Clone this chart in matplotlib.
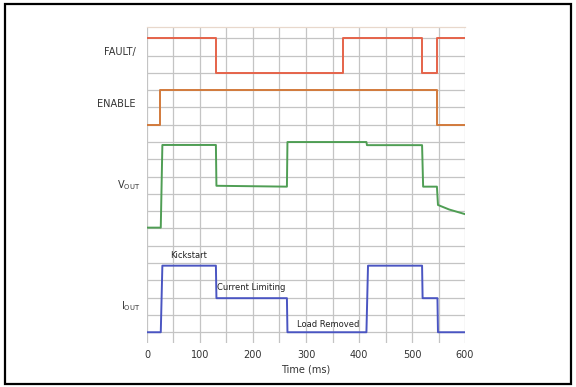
import matplotlib.pyplot as plt
from matplotlib.patches import Rectangle

# time axis (ms) and trace levels
fault_t = [0, 130, 130, 370, 370, 519, 519, 548, 548, 600]
fault_v = [1, 1, 0, 0, 1, 1, 0, 0, 1, 1]

enable_t = [0, 25, 25, 548, 548, 600]
enable_v = [0, 0, 1, 1, 0, 0]

vout_t = [0, 26, 29, 130, 131, 264, 265, 414, 415, 519, 521, 547, 549, 570, 600]
vout_v = [0.05, 0.05, 4.83, 4.83, 2.47, 2.42, 5.0, 5.0, 4.82, 4.82, 2.42, 2.42, 1.36, 1.1, 0.83]

iout_t = [0, 26, 29, 130, 131, 264, 265, 414, 417, 519, 520, 548, 549, 600]
iout_v = [0, 0, 3.85, 3.85, 1.97, 1.97, 0, 0, 3.85, 3.85, 1.97, 1.97, 0, 0]

labels = ['FAULT/', 'ENABLE', '$\\mathregular{V_{OUT}}$', '$\\mathregular{I_{OUT}}$']
notes = ['Kickstart', 'Current Limiting', 'Load Removed']
note_t = [79, 197, 341]
note_y = [4.43, 2.58, 0.46]

# layout: baseline and swing of each trace in grid units
fault_base, fault_swing = 15, 2
enable_base, enable_swing = 12, 2
vout_base = 6

fig = plt.figure(figsize=(5.76, 3.87), dpi=100)
ax = fig.add_axes([0.2552, 0.1129, 0.5521, 0.8181])

ax.plot(fault_t, [fault_base + fault_swing * v for v in fault_v], color='#e5634a', lw=1.4)
ax.plot(enable_t, [enable_base + enable_swing * v for v in enable_v], color='#d27a3c', lw=1.4)
ax.plot(vout_t, [vout_base + v for v in vout_v], color='#4f9e54', lw=1.4)
ax.plot(iout_t, iout_v, color='#4a55c2', lw=1.4)

ax.set_xlim(0, 600)
ax.set_ylim(-0.64, 17.67)
ax.set_xticks(range(0, 601, 100))
ax.set_xticks(range(0, 601, 50), minor=True)
ax.set_yticks(range(0, 18))
ax.set_yticklabels([])
ax.grid(True, which='both', color='#c4c4c4', lw=0.9)
ax.tick_params(which='both', length=0, labelsize=7, pad=5, colors='#333333')
ax.set_axisbelow(True)
for side in ['left', 'right', 'bottom']:
    ax.spines[side].set_visible(False)
ax.spines['top'].set_color('#e8d8cc')
ax.spines['top'].set_linewidth(0.9)
ax.set_xlabel('Time (ms)', fontsize=7, labelpad=3, color='#333333')

label_y = [16.2, 13.2, 8.5, 1.5]
label_x = [-22, -22, -13, -13]
for lab, x, y in zip(labels, label_x, label_y):
    ax.text(x, y, lab, ha='right', va='center', fontsize=7, color='#333333')

for txt, t, y in zip(notes, note_t, note_y):
    ax.text(t, y, txt, ha='center', va='center', fontsize=6, color='#222222')

fig.patches.append(Rectangle((0.009, 0.008), 0.982, 0.981, transform=fig.transFigure,
                             fill=False, edgecolor='black', lw=1.6))

fig.savefig('out.png', dpi=100)
